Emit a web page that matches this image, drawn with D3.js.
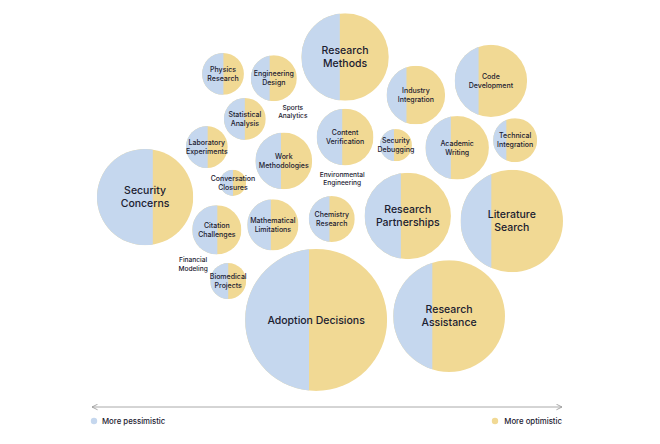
<!DOCTYPE html>
<html>
<head>
<meta charset="utf-8">
<script src="https://cdn.jsdelivr.net/npm/d3@7"></script>
<style>
  html, body { margin: 0; padding: 0; background: #fff; }
  svg { display: block; font-family: Inter, "Noto Sans", sans-serif; }
</style>
</head>
<body>
<div id="chart"></div>
<script>
// topic names, one per bubble
const topics = [
  "Research Methods", "Industry Integration", "Code Development", "Physics Research",
  "Engineering Design", "Statistical Analysis", "Sports Analytics", "Content Verification",
  "Laboratory Experiments", "Work Methodologies", "Conversation Closures", "Environmental Engineering",
  "Security Debugging", "Academic Writing", "Technical Integration", "Security Concerns",
  "Citation Challenges", "Mathematical Limitations", "Chemistry Research", "Financial Modeling",
  "Biomedical Projects", "Research Partnerships", "Literature Search", "Adoption Decisions",
  "Research Assistance"
];
// relative bubble size (0 = label only)
const sizes = [38, 17, 26, 8.7, 10.5, 8.7, 0, 16, 8.7, 16, 3.4, 0, 5.1, 20, 9.6, 46, 12, 13, 10.5, 0, 6.4, 37, 52, 100, 62];
// share of the bubble that is "more pessimistic"
const pessimistic = [0.44, 0.34, 0.33, 0.51, 0.41, 0.5, 0, 0.45, 0.52, 0.45, 0.5, 0, 0.44, 0.4, 0.3, 0.58, 0.51, 0.46, 0.45, 0, 0.5, 0.42, 0.3, 0.45, 0.35];
// packed layout position (percent of plot area)
const posX = [53.7, 68.6, 84.4, 28.0, 38.7, 32.6, 42.7, 53.7, 24.6, 40.8, 30.1, 53.1, 64.4, 77.3, 89.5, 11.6, 26.7, 38.5, 50.9, 21.7, 29.1, 66.9, 88.8, 47.6, 75.6];
const posY = [12.2, 22.1, 18.4, 16.6, 17.7, 28.3, 26.5, 33.0, 35.6, 39.2, 44.9, 43.9, 35.1, 35.8, 33.8, 48.6, 57.1, 55.8, 54.3, 66.0, 70.4, 53.5, 54.8, 80.5, 79.5];
const legendLabels = ["More pessimistic", "More optimistic"];

const width = 660, height = 444;
const blue = "#c5d7ee", yellow = "#f1d994", ink = "#1b2030";

const x = d3.scaleLinear().domain([0, 100]).range([90, 565]);
const y = d3.scaleLinear().domain([0, 100]).range([10, 395]);
const r = d3.scaleSqrt().domain([0, 100]).range([0, 71]);

const data = topics.map((name, i) => ({
  id: i, name, size: sizes[i], pess: pessimistic[i], cx: x(posX[i]), cy: y(posY[i]), r: r(sizes[i])
}));

const svg = d3.select("#chart").append("svg")
  .attr("width", width)
  .attr("height", height);

const defs = svg.append("defs");
defs.selectAll("clipPath")
  .data(data.filter(d => d.size > 0))
  .join("clipPath")
    .attr("id", d => "clip" + d.id)
  .append("circle")
    .attr("cx", d => d.cx)
    .attr("cy", d => d.cy)
    .attr("r", d => d.r);

const bubbles = svg.append("g")
  .selectAll("g")
  .data(data.filter(d => d.size > 0))
  .join("g")
    .attr("clip-path", d => `url(#clip${d.id})`);

bubbles.append("rect")
    .attr("x", d => d.cx - d.r)
    .attr("y", d => d.cy - d.r)
    .attr("width", d => 2 * d.r)
    .attr("height", d => 2 * d.r)
    .attr("fill", yellow);

bubbles.append("rect")
    .attr("x", d => d.cx - d.r)
    .attr("y", d => d.cy - d.r)
    .attr("width", d => 2 * d.r * d.pess)
    .attr("height", d => 2 * d.r)
    .attr("fill", blue);

// labels
const fontSize = d => d.r >= 40 ? 10.5 : (d.size > 0 ? 7 : 6.6);
svg.append("g")
    .attr("text-anchor", "middle")
    .attr("fill", ink)
  .selectAll("text")
  .data(data)
  .join("text")
    .attr("font-size", fontSize)
    .attr("font-weight", 500)
    .each(function(d) {
      const words = d.name === "Adoption Decisions" ? [d.name] : d.name.split(" ");
      const fs = fontSize(d);
      const lh = fs * 1.25;
      const y0 = d.cy - (words.length - 1) * lh / 2 + fs * 0.35;
      d3.select(this).selectAll("tspan")
        .data(words)
        .join("tspan")
          .attr("x", d.cx)
          .attr("y", (w, j) => y0 + j * lh)
          .text(w => w);
    });

// axis arrow
const axisY = 407;
defs.append("marker")
    .attr("id", "arrow")
    .attr("viewBox", "0 0 10 10")
    .attr("refX", 9).attr("refY", 5)
    .attr("markerWidth", 7).attr("markerHeight", 7)
    .attr("orient", "auto-start-reverse")
  .append("path")
    .attr("d", "M1,1L9,5L1,9")
    .attr("fill", "none")
    .attr("stroke", "#999")
    .attr("stroke-width", 1.2);

svg.append("line")
    .attr("x1", x(0) + 2).attr("x2", x(100) - 3)
    .attr("y1", axisY).attr("y2", axisY)
    .attr("stroke", "#aaa")
    .attr("stroke-width", 1)
    .attr("marker-start", "url(#arrow)")
    .attr("marker-end", "url(#arrow)");

// legend
const legendY = 421;
const leg = svg.append("g").attr("font-size", 7.8).attr("font-weight", 500).attr("fill", ink);
leg.append("circle").attr("cx", x(0) + 4).attr("cy", legendY).attr("r", 3.2).attr("fill", blue);
leg.append("text").attr("x", x(0) + 12).attr("y", legendY + 2.7).text(legendLabels[0]);
leg.append("circle").attr("cx", x(100) - 70).attr("cy", legendY).attr("r", 3.2).attr("fill", yellow);
leg.append("text").attr("x", x(100) - 3).attr("y", legendY + 2.7).attr("text-anchor", "end").text(legendLabels[1]);
</script>
</body>
</html>
